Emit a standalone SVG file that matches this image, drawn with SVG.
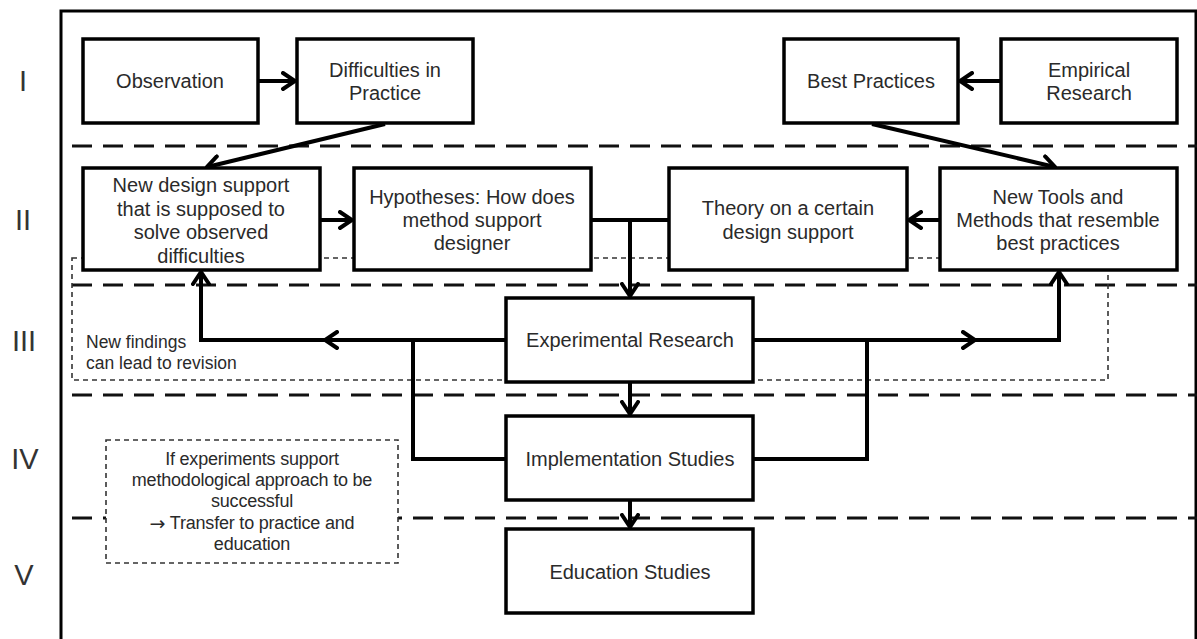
<svg xmlns="http://www.w3.org/2000/svg" width="1197" height="639" viewBox="0 0 1197 639">
<defs>
<style>
.frame{fill:none;stroke:#000;stroke-width:3}
.sep{fill:none;stroke:#111;stroke-width:3;stroke-dasharray:20 11}
.thin{fill:none;stroke:#333;stroke-width:1.6;stroke-dasharray:5 4}
.note{fill:#fff;stroke:#333;stroke-width:1.6;stroke-dasharray:5 4}
.box{fill:#fff;stroke:#000;stroke-width:3.5}
.con{fill:none;stroke:#000;stroke-width:4;stroke-linejoin:miter}
.t{font-family:"Liberation Sans",Arial,sans-serif;font-size:20px;fill:#2a2a2a;text-anchor:middle;dominant-baseline:central}
.n{font-family:"Liberation Sans",Arial,sans-serif;font-size:18px;fill:#2a2a2a;text-anchor:middle;dominant-baseline:central;letter-spacing:-0.2px}
.s{font-family:"Liberation Sans",Arial,sans-serif;font-size:17.5px;fill:#2a2a2a;dominant-baseline:central}
.r{font-family:"Liberation Sans",Arial,sans-serif;font-size:29px;fill:#333;text-anchor:middle;dominant-baseline:central}
.arr{font-family:"DejaVu Sans",sans-serif;font-size:19px}
</style>
<marker id="ah" viewBox="-14 -10 16 20" markerWidth="16" markerHeight="20" refX="0" refY="0" orient="auto" markerUnits="userSpaceOnUse">
<path d="M-12,-8 L0,0 L-12,8" fill="none" stroke="#000" stroke-width="4" stroke-linecap="round" stroke-linejoin="miter"/>
</marker>
</defs>
<rect x="0" y="0" width="1197" height="639" fill="#fff"/>

<g id="lanes">
<rect class="frame" x="61" y="11" width="1135" height="640"/>
<text class="r" x="23" y="81">I</text>
<text class="r" x="23" y="220">II</text>
<text class="r" x="24" y="341">III</text>
<text class="r" x="25" y="459">IV</text>
<text class="r" x="24" y="575">V</text>
<line class="sep" x1="72" y1="146" x2="1197" y2="146"/>
<line class="sep" x1="72" y1="285" x2="1197" y2="285"/>
<line class="sep" x1="72" y1="395" x2="1197" y2="395"/>
<line class="sep" x1="72" y1="518" x2="1197" y2="518"/>
</g>

<g id="revision-note">
<rect class="thin" x="72" y="258" width="1036" height="122"/>
<text class="s" x="86" y="342">New findings</text>
<text class="s" x="86" y="363">can lead to revision</text>
</g>

<g id="connectors">
<path class="con" d="M258,81 L295,81" marker-end="url(#ah)"/>
<path class="con" d="M1001,81 L960,81" marker-end="url(#ah)"/>
<path class="con" d="M385,124 L207,167" marker-end="url(#ah)"/>
<path class="con" d="M872,124 L1055,167" marker-end="url(#ah)"/>
<path class="con" d="M320,220 L352,220" marker-end="url(#ah)"/>
<path class="con" d="M940,220 L909,220" marker-end="url(#ah)"/>
<path class="con" d="M591,220 L669,220"/>
<path class="con" d="M630,220 L630,296" marker-end="url(#ah)"/>
<path class="con" d="M630,382 L630,414" marker-end="url(#ah)"/>
<path class="con" d="M630,500 L630,527" marker-end="url(#ah)"/>
<path class="con" d="M506,340 L325,340" marker-end="url(#ah)"/>
<path class="con" d="M325,340 L201,340 L201,272" marker-end="url(#ah)"/>
<path class="con" d="M506,459 L413,459 L413,340"/>
<path class="con" d="M753,340 L975,340" marker-end="url(#ah)"/>
<path class="con" d="M975,340 L1059,340 L1059,272" marker-end="url(#ah)"/>
<path class="con" d="M753,459 L867,459 L867,340"/>
</g>

<g id="observation">
<rect class="box" x="83" y="39" width="175" height="84"/>
<text class="t" x="170" y="81">Observation</text>
</g>
<g id="difficulties">
<rect class="box" x="297" y="39" width="176" height="84"/>
<text class="t" x="385" y="70">Difficulties in</text>
<text class="t" x="385" y="93">Practice</text>
</g>
<g id="best-practices">
<rect class="box" x="784" y="39" width="174" height="84"/>
<text class="t" x="871" y="81">Best Practices</text>
</g>
<g id="empirical">
<rect class="box" x="1001" y="39" width="176" height="84"/>
<text class="t" x="1089" y="70">Empirical</text>
<text class="t" x="1089" y="93">Research</text>
</g>
<g id="new-design-support">
<rect class="box" x="83" y="168" width="237" height="102"/>
<text class="t" x="201" y="185">New design support</text>
<text class="t" x="201" y="209">that is supposed to</text>
<text class="t" x="201" y="232">solve observed</text>
<text class="t" x="201" y="256">difficulties</text>
</g>
<g id="hypotheses">
<rect class="box" x="354" y="168" width="237" height="102"/>
<text class="t" x="472" y="197">Hypotheses: How does</text>
<text class="t" x="472" y="220">method support</text>
<text class="t" x="472" y="243">designer</text>
</g>
<g id="theory">
<rect class="box" x="669" y="168" width="238" height="102"/>
<text class="t" x="788" y="208">Theory on a certain</text>
<text class="t" x="788" y="232">design support</text>
</g>
<g id="new-tools">
<rect class="box" x="940" y="168" width="237" height="102"/>
<text class="t" x="1058" y="197">New Tools and</text>
<text class="t" x="1058" y="220">Methods that resemble</text>
<text class="t" x="1058" y="243">best practices</text>
</g>
<g id="experimental">
<rect class="box" x="506" y="298" width="247" height="84"/>
<text class="t" x="630" y="340">Experimental Research</text>
</g>
<g id="implementation">
<rect class="box" x="506" y="416" width="247" height="84"/>
<text class="t" x="630" y="459">Implementation Studies</text>
</g>
<g id="education">
<rect class="box" x="506" y="529" width="247" height="84"/>
<text class="t" x="630" y="572">Education Studies</text>
</g>
<g id="transfer-note">
<rect class="note" x="106" y="440" width="292" height="123"/>
<text class="n" x="252" y="459">If experiments support</text>
<text class="n" x="252" y="480">methodological approach to be</text>
<text class="n" x="252" y="501">successful</text>
<text class="n" x="252" y="523"><tspan class="arr">→</tspan> Transfer to practice and</text>
<text class="n" x="252" y="544">education</text>
</g>
</svg>
